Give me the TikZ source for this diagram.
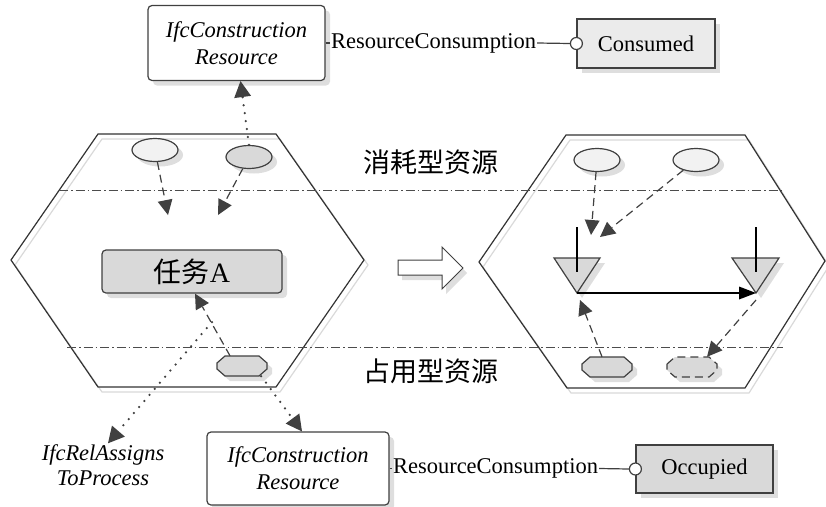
\documentclass[tikz,border=0pt]{standalone}
\usepackage{fontspec}
\setmainfont{Liberation Serif}
\newfontfamily\cjk{Noto Sans CJK SC}
\usetikzlibrary{arrows.meta,shapes.geometric,shadows,calc}
\begin{document}
\begin{tikzpicture}[x=1pt,y=-1pt,
  shad/.style={drop shadow={shadow xshift=5pt,shadow yshift=-5pt,fill=black!13,opacity=1}},
  box/.style={draw=black!75,line width=1.2pt,rounded corners=4pt,fill=white,shad,align=center,
    font=\fontsize{22.5}{27}\selectfont\itshape},
  sqbox/.style={draw=black!75,line width=1.2pt,fill=black!8,shad,
    font=\fontsize{22.5}{27}\selectfont},
  lbl/.style={inner sep=1pt,font=\fontsize{22.5}{27}\selectfont},
  cjklbl/.style={inner sep=0pt,font=\fontsize{27}{30}\selectfont\cjk},
  ring/.style={circle,draw=black!75,line width=1.2pt,fill=white,minimum size=12pt,inner sep=0pt},
  ellip/.style={ellipse,draw=black!75,line width=1.2pt,minimum width=46pt,minimum height=23pt,inner sep=0pt,shad},
  octoanchor/.style={rectangle,minimum width=50pt,minimum height=20pt,inner sep=0pt},
  octoline/.style={draw=black!75,line width=1.2pt,fill=black!15},
  octosolid/.style={},
  octodash/.style={dash pattern=on 8pt off 5pt},
  octoshadow/.style={fill=black!13},
  hexline/.style={draw=black!80,line width=1.2pt},
  hexshadow/.style={draw=black!15,line width=1.2pt},
  divline/.style={draw=black!70,line width=0.8pt,dash pattern=on 9pt off 3pt on 1.5pt off 3pt},
  dasharrow/.style={-{Triangle[length=15pt,width=15pt,line width=0pt]},draw=black!75,line width=1.2pt,dash pattern=on 8pt off 5pt},
  dotarrow/.style={-{Triangle[length=16pt,width=17pt,line width=0pt]},draw=black!75,line width=2.5pt,line cap=round,dash pattern=on 0pt off 8pt},
  solidarrow/.style={-{Triangle[length=17pt,width=13pt,line width=0pt]},draw=black,line width=1.5pt},
  conn/.style={draw=black!75,line width=1.2pt}
]
\useasboundingbox (0,0) rectangle (826,506);

% hexagons
\draw[hexshadow,shift={(4,5)}] (98,134) -- (276,134) -- (364,260) -- (276,387) -- (98,387) -- (11,260) -- cycle;
\draw[hexline] (98,134) -- (276,134) -- (364,260) -- (276,387) -- (98,387) -- (11,260) -- cycle;
\draw[hexshadow,shift={(4,5)}] (566,135) -- (745,135) -- (825,261) -- (745,388) -- (567,388) -- (479,262) -- cycle;
\draw[hexline] (566,135) -- (745,135) -- (825,261) -- (745,388) -- (567,388) -- (479,262) -- cycle;

% divider lines
\draw[divline] (59,190) -- (783,190);
\draw[divline] (67,347) -- (783,347);

% labels
\node[cjklbl] (lab1) at (431,162) {消耗型资源};
\node[cjklbl] (lab2) at (431,371) {占用型资源};

% top row
\node[box,minimum width=177pt,minimum height=75pt] (tbox) at (236.5,43) {IfcConstruction\\Resource};
\node[lbl] (rc1) at (433.5,43) {ResourceConsumption};
\node[sqbox,minimum width=138pt,minimum height=49pt] (cons) at (646,43.5) {Consumed};
\node[ring] (c1) at (cons.west) {};
\draw[conn] (tbox.east) -- (rc1.west);
\draw[conn] (rc1.east) -- (c1.west);

% bottom row
\node[box,minimum width=182pt,minimum height=73pt] (bbox) at (298,468.5) {IfcConstruction\\Resource};
\node[lbl] (rc2) at (495.5,468.5) {ResourceConsumption};
\node[sqbox,fill=black!15,minimum width=137pt,minimum height=48pt] (occ) at (704.5,469) {Occupied};
\node[ring] (c2) at (occ.west) {};
\draw[conn] (bbox.east) -- (rc2.west);
\draw[conn] (rc2.east) -- (c2.west);

\node[lbl,align=center,font=\fontsize{22.5}{25}\selectfont\itshape] (rel) at (103,465) {IfcRelAssigns\\ToProcess};

% left hexagon contents
\node[ellip,fill=black!5] (e1) at (155,150) {};
\node[ellip,fill=black!15] (e2) at (249,157) {};
\node[box,fill=black!15,font=\fontsize{28}{32}\selectfont,minimum width=180pt,minimum height=43pt] (task) at (192,271.5) {{\cjk 任务}A};

% octagons
\node[octoanchor] (o1) at (242,366) {};
\node[octoanchor] (o2) at (607,367) {};
\node[octoanchor] (o3) at (692,367) {};
\foreach \o/\extra in {o1/octosolid,o2/octosolid,o3/octodash}{
  \fill[octoshadow,shift={(\o.center)},shift={(5,5)}] (-25,-3) -- (-17,-10) -- (17,-10) -- (25,-3) -- (25,3) -- (17,10) -- (-17,10) -- (-25,3) -- cycle;
  \draw[octoline,shift={(\o.center)},\extra] (-25,-3) -- (-17,-10) -- (17,-10) -- (25,-3) -- (25,3) -- (17,10) -- (-17,10) -- (-25,3) -- cycle;
}

\coordinate (a1) at (168,215);
\coordinate (a2) at (218,215);
\coordinate (s1) at (212,322);
\draw[dasharrow] (e1) -- (a1);
\draw[dasharrow] (e2) -- (a2);
\draw[dasharrow] ([xshift=-12pt]o1.north) -- ([xshift=3pt]task.south);
\draw[dotarrow] (e2.north) -- ([xshift=4pt]tbox.south);
\draw[dotarrow] (s1) -- ([xshift=5pt]rel.north);
\draw[dotarrow] ([xshift=-6pt]o1.south east) -- ([xshift=4pt]bbox.north);

% hollow arrow
\fill[black!13,shift={(4,5)}] (398,260) -- (442,260) -- (442,247) -- (463,268) -- (442,289) -- (442,275) -- (398,275) -- cycle;
\draw[draw=black!75,line width=1pt,fill=white] (398,260) -- (442,260) -- (442,247) -- (463,268) -- (442,289) -- (442,275) -- (398,275) -- cycle;

% right hexagon contents
\node[ellip,fill=black!5] (e3) at (597,160) {};
\node[ellip,fill=black!5] (e4) at (696,160) {};
\fill[black!13,shift={(5,5)}] (554,258) -- (600,258) -- (577,293) -- cycle;
\fill[black!13,shift={(5,5)}] (732,258) -- (779,258) -- (756,293) -- cycle;
\draw[draw=black!75,line width=1.2pt,fill=black!15] (554,258) -- (600,258) -- (577,293) -- cycle;
\draw[draw=black!75,line width=1.2pt,fill=black!15] (732,258) -- (779,258) -- (756,293) -- cycle;
\coordinate (tv1) at (577,293);
\coordinate (tv2) at (756,293);
\coordinate (tt1) at (577,227);
\coordinate (tt2) at (756,227);
\draw[draw=black,line width=1.2pt] (tt1) -- ([yshift=21pt]tv1);
\draw[draw=black,line width=1.2pt] (tt2) -- ([yshift=21pt]tv2);
\draw[solidarrow] (tv1) -- (tv2);

\coordinate (a3) at (591,235);
\coordinate (a4) at (600,237);
\coordinate (a5) at (580,300);
\draw[dasharrow] (e3) -- (a3);
\draw[dasharrow] (e4) -- (a4);
\draw[dasharrow] ([xshift=-5pt]o2.north) -- (a5);
\draw[dasharrow] ([yshift=-7pt]tv2) -- ([xshift=15pt]o3.north);
\end{tikzpicture}
\end{document}
